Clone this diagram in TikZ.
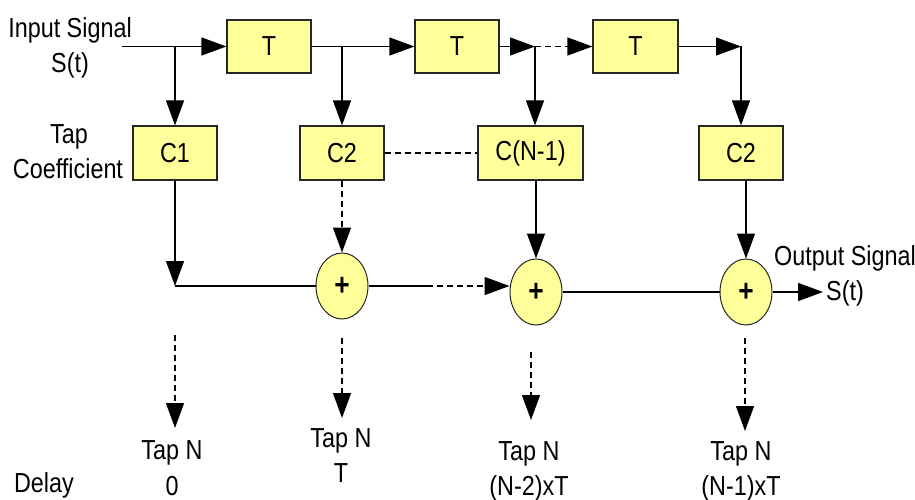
\documentclass[tikz,border=0pt]{standalone}
\usepackage{fontspec}
\setmainfont{Liberation Sans}[FakeStretch=0.85]
\usetikzlibrary{arrows.meta,shapes.geometric}
\definecolor{boxfill}{HTML}{FFFF99}
\tikzset{
  box/.style={draw=black!85, fill=boxfill, line width=1.2pt, minimum width=84pt, minimum height=53pt, inner sep=0pt, font=\fontsize{27.5}{32}\selectfont},
  sumnode/.style={draw=black!85, fill=boxfill, line width=1pt, ellipse, minimum width=52pt, minimum height=66pt, inner sep=0pt, font=\fontsize{31}{32}\selectfont\bfseries},
  lbl/.style={font=\fontsize{27.5}{32}\selectfont, inner sep=0pt, anchor=base},
  wire/.style={line width=1.3pt},
  arr/.style={wire, -{Triangle[length=25pt,width=18pt]}},
  dsh/.style={dash pattern=on 6pt off 4pt}
}
\begin{document}
\begin{tikzpicture}[x=1pt,y=-1pt]
\useasboundingbox (0,0) rectangle (915,500);
% boxes
\node[box] (T1) at (269,46.5) {T};
\node[box] (T2) at (457,46.5) {T};
\node[box, minimum width=85pt] (T3) at (635.5,46.5) {T};
\node[box, minimum height=54pt] (C1) at (175,153) {C1};
\node[box, minimum height=54pt] (C2) at (342,153) {C2};
\node[box, minimum height=54pt, minimum width=105pt] (CN) at (530.5,153) {C(N-1)};
\node[box, minimum height=54pt] (C2b) at (741,153) {C2};
\node[sumnode] (s1) at (342,286) {+};
\node[sumnode] (s2) at (536,292) {+};
\node[sumnode] (s3) at (746,292) {+};
% coordinates
\coordinate (in) at (122,46.5);
\coordinate (b1) at (175,46.5);
\coordinate (b2) at (342,46.5);
\coordinate (j2) at (535,46.5);
\coordinate (j3) at (741,46.5);
\coordinate (k1) at (175,286);
\coordinate (m1) at (427,286);
\coordinate (out) at (823,292);
% top chain
\draw[arr] (in) -- (T1.west);
\draw[arr] (b1) -- (C1.north);
\draw[arr] (T1.east) -- (T2.west);
\draw[arr] (b2) -- (C2.north);
\draw[arr] (T2.east) -- (j2);
\draw[arr, dsh] (j2) -- (T3.west);
\draw[arr] (j2) -- (j2 |- CN.north);
\draw[arr] (T3.east) -- (j3);
\draw[arr] (j3) -- (C2b.north);
\draw[wire, dsh] (C2.east) -- (CN.west);
% middle
\draw[arr] (C1.south) -- (k1);
\draw[wire] (k1) -- (s1.west |- k1);
\draw[arr, dsh] (C2.south) -- (s1.north);
\draw[wire] (s1.east |- m1) -- (m1);
\draw[arr, dsh] (m1) -- (s2.west |- m1);
\draw[arr] (CN.south -| s2.north) -- (s2.north);
\draw[wire] (s2.east) -- (s3.west);
\draw[arr] (C2b.south -| s3.north) -- (s3.north);
\draw[arr] (s3.east) -- (out);
% bottom dashed arrows
\coordinate (d1a) at (175,335); \coordinate (d1b) at (175,428);
\coordinate (d2a) at (342,338); \coordinate (d2b) at (342,418);
\coordinate (d3a) at (531,352); \coordinate (d3b) at (531,420);
\coordinate (d4a) at (745,338); \coordinate (d4b) at (745,431);
\draw[arr, dsh] (d1a) -- (d1b);
\draw[arr, dsh] (d2a) -- (d2b);
\draw[arr, dsh] (d3a) -- (d3b);
\draw[arr, dsh] (d4a) -- (d4b);
% labels
\node[lbl] (lin1) at (70,38) {Input Signal};
\node[lbl] (lin2) at (70,73) {S(t)};
\node[lbl] (ltap1) at (69,143) {Tap};
\node[lbl] (ltap2) at (68,178) {Coefficient};
\node[lbl] (lout1) at (845,265) {Output Signal};
\node[lbl, anchor=base west] (lout2) at (826,300) {S(t)};
\node[lbl] (lq1a) at (172,459) {Tap N};
\node[lbl] (lq1b) at (172,495) {0};
\node[lbl] (lq2a) at (341,447) {Tap N};
\node[lbl] (lq2b) at (341,482) {T};
\node[lbl] (lq3a) at (529,460) {Tap N};
\node[lbl] (lq3b) at (529,495) {(N-2)xT};
\node[lbl] (lq4a) at (741,460) {Tap N};
\node[lbl] (lq4b) at (741,495) {(N-1)xT};
\node[lbl] (ldelay) at (44,492) {Delay};
\end{tikzpicture}
\end{document}
